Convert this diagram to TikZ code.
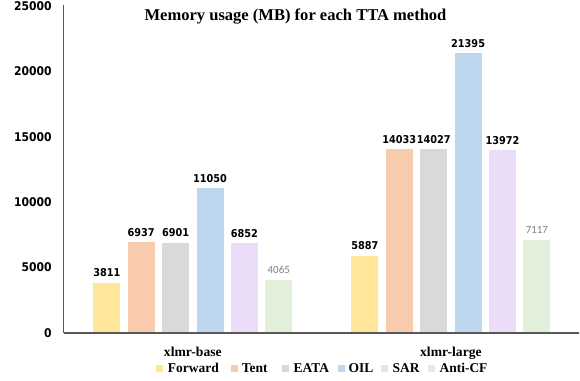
\documentclass[tikz,border=0pt]{standalone}
\usepackage{fontspec}
\newfontfamily\numfont{DejaVu Sans Condensed}
\newfontfamily\serfont{Liberation Serif}
\newfontfamily\calfont{Carlito}
\definecolor{cfwd}{HTML}{FFE699}
\definecolor{ctent}{HTML}{F8CBAD}
\definecolor{ceata}{HTML}{D9D9D9}
\definecolor{coil}{HTML}{BDD7EE}
\definecolor{csar}{HTML}{EBDDF8}
\definecolor{canti}{HTML}{E2EFDA}
\definecolor{axisgray}{HTML}{595959}
\definecolor{labgray}{HTML}{808080}
\begin{document}
\begin{tikzpicture}[x=0.75pt,y=-0.75pt,
  vlab/.style={font=\numfont\bfseries\fontsize{8.1}{9}\selectfont, anchor=base, inner sep=0pt},
  glab/.style={font=\calfont\fontsize{8.25}{9}\selectfont, text=labgray, anchor=base, inner sep=0pt},
  ylab/.style={font=\numfont\bfseries\fontsize{9}{10}\selectfont, anchor=east, inner sep=0pt},
  catlab/.style={font=\serfont\bfseries\fontsize{10.2}{12}\selectfont, anchor=base, inner sep=0pt},
  leg/.style={font=\serfont\bfseries\fontsize{10.1}{12}\selectfont, anchor=base west, inner sep=0pt},
  titlab/.style={font=\serfont\bfseries\fontsize{12.4}{14}\selectfont, anchor=base, inner sep=0pt},
  yaxis/.style={draw=axisgray, line width=0.9pt},
  xaxis/.style={draw=axisgray, line width=1.4pt}]
\useasboundingbox[fill=white] (0,0) rectangle (580,380);
% bars, xlmr-base (values in thousands)
\foreach \w/\c [count=\i] in {3.811/cfwd,6.937/ctent,6.901/ceata,11.050/coil,6.852/csar,4.065/canti} {
  \pgfmathsetmacro\xc{192.8+(\i-3.5)*34.4}
  \pgfmathsetmacro\yt{332.7-13.064*\w}
  \fill[\c] (\xc-13.5,332.7) rectangle (\xc+13.5,\yt);
}
% bars, xlmr-large
\foreach \w/\c [count=\i] in {5.887/cfwd,14.033/ctent,14.027/ceata,21.395/coil,13.972/csar,7.117/canti} {
  \pgfmathsetmacro\xc{450.9+(\i-3.5)*34.4}
  \pgfmathsetmacro\yt{332.7-13.064*\w}
  \fill[\c] (\xc-13.5,332.7) rectangle (\xc+13.5,\yt);
}
% value labels
\foreach \v/\w [count=\i] in {3811/3.811,6937/6.937,6901/6.901,11050/11.050,6852/6.852} {
  \pgfmathsetmacro\xc{192.8+(\i-3.5)*34.4}
  \pgfmathsetmacro\yt{332.7-13.064*\w-6}
  \node[vlab] (lb\i) at (\xc,\yt) {\v};
}
\foreach \v/\w [count=\i] in {5887/5.887,14033/14.033,14027/14.027,21395/21.395,13972/13.972} {
  \pgfmathsetmacro\xc{450.9+(\i-3.5)*34.4}
  \pgfmathsetmacro\yt{332.7-13.064*\w-6}
  \node[vlab] (ll\i) at (\xc,\yt) {\v};
}
\node[glab] (lb6) at ({192.8+2.5*34.4},{332.7-13.064*4.065-6.3}) {4065};
\node[glab] (ll6) at ({450.9+2.5*34.4},{332.7-13.064*7.117-6.3}) {7117};
% axes
\coordinate (org) at (63.5,332.7);
\coordinate (ytop) at (63.5,5);
\coordinate (xend) at (579,332.7);
\draw[yaxis] (org) -- (ytop);
\draw[xaxis] (org) -- (xend);
% y tick labels
\foreach \t/\w [count=\k] in {0/0,5000/5,10000/10,15000/15,20000/20,25000/25} {
  \node[ylab] (yl\k) at (52,{332.7-13.064*\w}) {\t};
}
% category labels
\node[catlab] (cbase) at (192.8,356) {xlmr-base};
\node[catlab] (clarge) at (450.9,356) {xlmr-large};
% title
\node[titlab] (title) at (295.5,20.5) {Memory usage (MB) for each TTA method};
% legend
\foreach \c/\t/\sx/\tx [count=\k] in {cfwd/Forward/156/167.7, ctent/Tent/231/241.7, ceata/EATA/281.7/293.3, coil/OIL/337.7/348.3, csar/SAR/381/392.3, canti/Anti-CF/428/439.3} {
  \fill[\c] (\sx,364.7) rectangle ++(7.3,7.3);
  \node[leg] (lg\k) at (\tx,372.7) {\t};
}
\end{tikzpicture}
\end{document}
